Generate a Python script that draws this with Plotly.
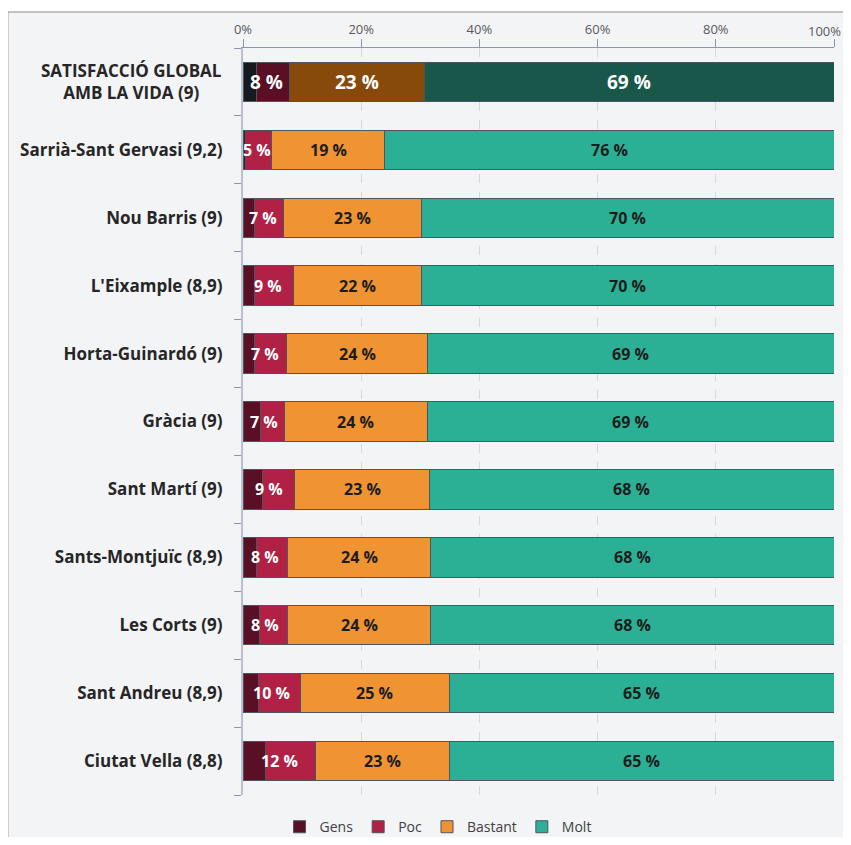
import plotly.graph_objects as go

categories = ["SATISFACCIÓ GLOBAL AMB LA VIDA (9)", "Sarrià-Sant Gervasi (9,2)", "Nou Barris (9)",
              "L'Eixample (8,9)", "Horta-Guinardó (9)", "Gràcia (9)", "Sant Martí (9)",
              "Sants-Montjuïc (8,9)", "Les Corts (9)", "Sant Andreu (8,9)", "Ciutat Vella (8,8)"]
tick_labels = ["", "Sarrià-Sant Gervasi (9,2)", "Nou Barris (9)",
               "L'Eixample (8,9)", "Horta-Guinardó (9)", "Gràcia (9)", "Sant Martí (9)",
               "Sants-Montjuïc (8,9)", "Les Corts (9)", "Sant Andreu (8,9)", "Ciutat Vella (8,8)"]
gens    = [2.3, 0.5, 1.9, 2.0, 2.0, 2.9, 3.3, 2.3, 2.8, 2.7, 3.8]
poc     = [5.5, 4.4, 5.0, 6.6, 5.4, 4.1, 5.4, 5.3, 4.8, 7.0, 8.5]
bastant = [22.9, 19.0, 23.3, 21.6, 23.8, 24.2, 22.9, 24.1, 24.1, 25.2, 22.6]
molt    = [69.3, 76.1, 69.8, 69.8, 68.8, 68.8, 68.4, 68.3, 68.3, 65.1, 65.1]
series_names = ["Gens", "Poc", "Bastant", "Molt"]
x_ticks = [0, 20, 40, 60, 80, 100]

colors = {"Gens": "#5a1024", "Poc": "#b02145", "Bastant": "#f09433", "Molt": "#2bb096"}
colors_top = {"Gens": "#16191d", "Poc": "#5a1024", "Bastant": "#874a0b", "Molt": "#18574a"}

FONT = "Open Sans"
fig = go.Figure()
data = {"Gens": gens, "Poc": poc, "Bastant": bastant, "Molt": molt}
for name in series_names:
    cols = [colors_top[name]] + [colors[name]] * (len(categories) - 1)
    # pass bottom row first so the legend swatch takes the regular colour
    fig.add_trace(go.Bar(
        y=categories[::-1], x=data[name][::-1], name=name, orientation="h",
        marker=dict(color=cols[::-1], line=dict(color="#4d5560", width=1)),
        hoverinfo="x+name",
    ))

# labels
for i, cat in enumerate(categories):
    top = i == 0
    size = 19 if top else 16
    dark = "#1c1c1c"
    gp = gens[i] + poc[i]
    fig.add_annotation(x=gp / 2, y=cat, text="<b>%d %%</b>" % round(gp), showarrow=False,
                       font=dict(family=FONT, size=size, color="white"))
    s = gp
    fig.add_annotation(x=s + bastant[i] / 2, y=cat, text="<b>%d %%</b>" % round(bastant[i]),
                       showarrow=False,
                       font=dict(family=FONT, size=size, color="white" if top else dark))
    s += bastant[i]
    fig.add_annotation(x=s + molt[i] / 2, y=cat, text="<b>%d %%</b>" % round(molt[i]),
                       showarrow=False,
                       font=dict(family=FONT, size=size, color="white" if top else dark))

# first category label (centered, two lines)
fig.add_annotation(xref="paper", yref="y", x=-0.1887, y=categories[0],
                   text="<b>SATISFACCIÓ GLOBAL<br>AMB LA VIDA (9)</b>", showarrow=False,
                   align="center", xanchor="center",
                   font=dict(family=FONT, size=17, color="#262626"))

# last top tick label, kept inside the visible area
fig.add_annotation(x=x_ticks[-1], xref="x", yref="paper", y=1.0, yshift=17,
                   text="%d%%" % x_ticks[-1], showarrow=False, xanchor="right", xshift=9,
                   yanchor="middle", font=dict(family=FONT, size=13, color="#595959"))

# frame
fig.add_shape(type="rect", xref="paper", yref="paper", x0=-0.398, x1=1.04, y0=-0.1, y1=1.0482,
              fillcolor="#f3f4f6", line=dict(color="#8c8c8c", width=1.2), layer="below")

fig.update_layout(
    barmode="stack", bargap=0.42,
    width=843, height=829,
    margin=dict(l=235, r=17, t=40, b=42, autoexpand=False),
    paper_bgcolor="white", plot_bgcolor="rgba(0,0,0,0)",
    font=dict(family=FONT),
    showlegend=True,
    legend=dict(orientation="h", x=0.33, xanchor="center", y=-0.043, yanchor="middle",
                font=dict(family=FONT, size=14, color="#404040"), traceorder="normal",
                itemwidth=30, bgcolor="rgba(0,0,0,0)"),
    xaxis=dict(side="top", range=[0, 100], tickvals=x_ticks,
               ticktext=["%d%%" % v for v in x_ticks[:-1]] + [""],
               tickfont=dict(family=FONT, size=13, color="#595959"),
               showgrid=True, gridcolor="#d5d8de", griddash="dash", gridwidth=1,
               showline=True, linecolor="#8a97b0", linewidth=1,
               ticks="outside", ticklen=8, tickcolor="#8a97b0",
               zeroline=False, fixedrange=True, automargin=False),
    yaxis=dict(categoryorder="array", categoryarray=categories, autorange="reversed",
               tickvals=categories, ticktext=["<b>%s</b>" % t if t else "" for t in tick_labels],
               tickfont=dict(family=FONT, size=17, color="#262626"),
               showline=True, linecolor="#b9c0cc", linewidth=2,
               ticks="outside", tickson="boundaries", ticklen=7, tickcolor="#8a97b0",
               ticklabelstandoff=15, showgrid=False, zeroline=False, automargin=False),
)

fig.write_html("out.html")
